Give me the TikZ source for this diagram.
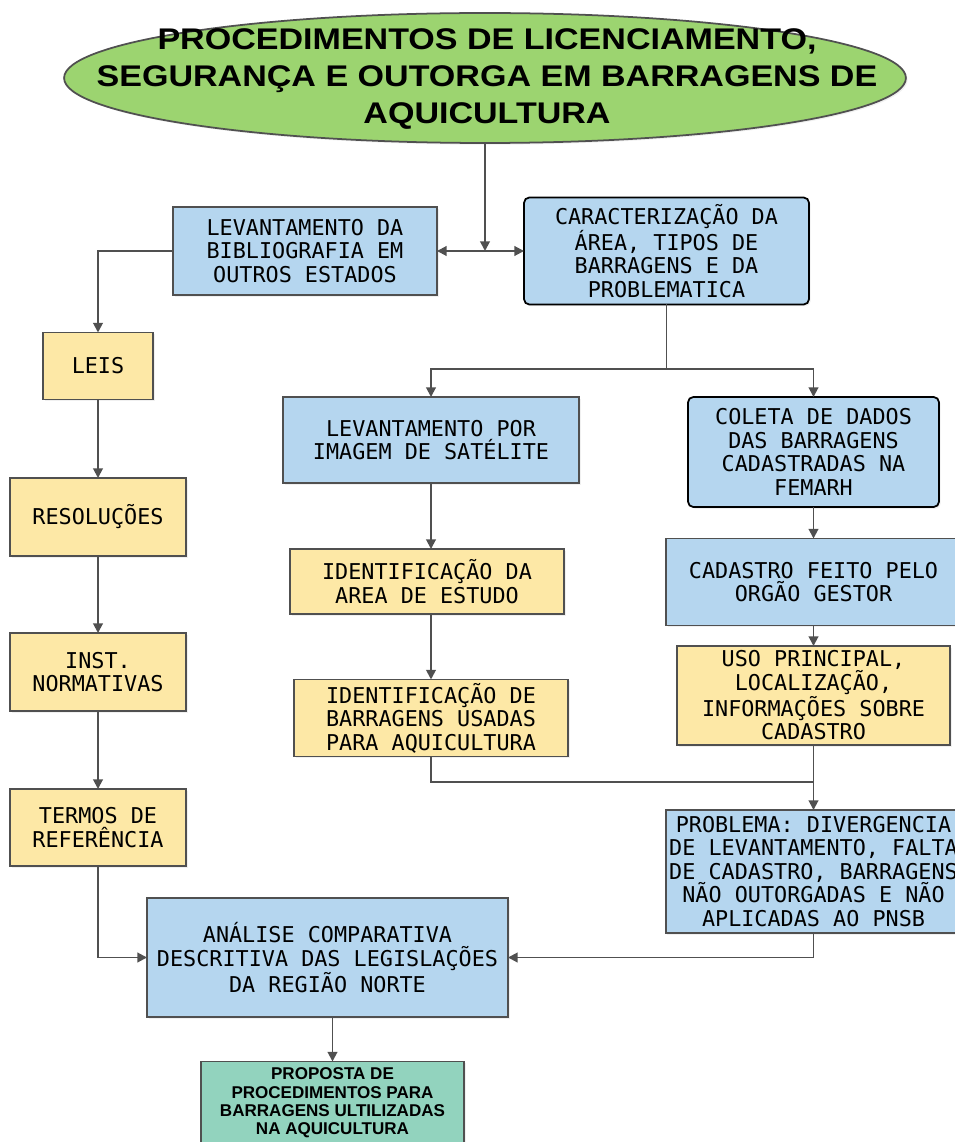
\documentclass[tikz,border=0pt]{standalone}
\usepackage{fontspec}
\setmonofont{DejaVu Sans Mono}
\newfontfamily\titlefont[FakeStretch=1.14]{Liberation Sans}
\newfontfamily\goalfont{Liberation Sans}
\usetikzlibrary{positioning, shapes.geometric, arrows.meta, shadows}
\definecolor{stepblue}{RGB}{181,214,239}
\definecolor{stepyellow}{RGB}{253,232,166}
\definecolor{titlegreen}{RGB}{156,212,112}
\definecolor{goalteal}{RGB}{146,211,190}
\definecolor{edgegray}{RGB}{80,80,80}

\begin{document}
\begin{tikzpicture}
    [x = 0.02cm, y = -0.02cm, outer sep = 0pt,
    >={Triangle[length=5.5pt, width=5.5pt]},
    box/.style={rectangle, draw=edgegray, line width=1pt, align=center,
      inner sep=2pt, font=\ttfamily\fontsize{12.4}{13.4}\selectfont,
      drop shadow={opacity=0.12, shadow xshift=1pt, shadow yshift=-1pt}},
    bluebox/.style={box, fill=stepblue},
    yellowbox/.style={box, fill=stepyellow},
    keybox/.style={bluebox, draw=black, rounded corners=3pt},
    goalbox/.style={box, fill=goalteal,
      font=\goalfont\bfseries\fontsize{9.7}{10.5}\selectfont},
    link/.style={draw=edgegray, line width=1.1pt},
    flow/.style={link, ->}]
    \useasboundingbox (0,0) rectangle (954,1142);

    % title
    \node[ellipse, draw=edgegray, line width=1pt, fill=titlegreen,
      minimum width=16.84cm, minimum height=2.6cm, inner sep=0pt,
      drop shadow={opacity=0.12, shadow xshift=1pt, shadow yshift=-1pt}]
      (title) at (485,78) {};
    \node[align=center, font=\titlefont\bfseries\fontsize{17}{21}\selectfont]
      (title text) at (487,79) {PROCEDIMENTOS DE LICENCIAMENTO,\\
      SEGURANÇA E OUTORGA EM BARRAGENS DE\\AQUICULTURA};

    % first row
    \node[bluebox, minimum width=5.28cm, minimum height=1.76cm] (biblio)
      at (305,251) {LEVANTAMENTO DA\\BIBLIOGRAFIA EM\\OUTROS ESTADOS};
    \node[keybox, minimum width=5.7cm, minimum height=2.14cm] (caract)
      at (666.5,251) {CARACTERIZAÇÃO DA\\ÁREA, TIPOS DE\\BARRAGENS E DA\\PROBLEMATICA};

    % legislation column
    \node[yellowbox, minimum width=2.2cm, minimum height=1.34cm] (leis)
      at (98,366) {LEIS};
    \node[yellowbox, minimum width=3.52cm, minimum height=1.56cm] (resol)
      at (98,517) {RESOLUÇÕES};
    \node[yellowbox, minimum width=3.52cm, minimum height=1.56cm] (inst)
      at (98,672) {INST.\\NORMATIVAS};
    \node[yellowbox, minimum width=3.52cm, minimum height=1.54cm] (termos)
      at (98,827.5) {TERMOS DE\\REFERÊNCIA};

    % satellite column
    \node[bluebox, minimum width=5.92cm, minimum height=1.72cm] (levimg)
      at (431,440) {LEVANTAMENTO POR\\IMAGEM DE SATÉLITE};
    \node[yellowbox, minimum width=5.48cm, minimum height=1.3cm] (identarea)
      at (427,581.5) {IDENTIFICAÇÃO DA\\AREA DE ESTUDO};
    \node[yellowbox, minimum width=5.48cm, minimum height=1.52cm] (identbarr)
      at (431,718) {IDENTIFICAÇÃO DE\\BARRAGENS USADAS\\PARA AQUICULTURA};

    % register column
    \node[keybox, minimum width=5.02cm, minimum height=2.2cm] (coleta)
      at (813.5,452) {COLETA DE DADOS\\DAS BARRAGENS\\CADASTRADAS NA\\FEMARH};
    \node[bluebox, minimum width=5.9cm, minimum height=1.74cm] (cadastro)
      at (813.5,582) {CADASTRO FEITO PELO\\ORGÃO GESTOR};
    \node[yellowbox, minimum width=5.46cm, minimum height=1.98cm] (uso)
      at (813.5,695.5) {USO PRINCIPAL,\\LOCALIZAÇÃO,\\INFORMAÇÕES SOBRE\\CADASTRO};
    \node[bluebox, minimum width=5.9cm, minimum height=2.46cm] (problema)
      at (813.5,871.5) {PROBLEMA: DIVERGENCIA\\DE LEVANTAMENTO, FALTA\\DE CADASTRO, BARRAGENS\\NÃO OUTORGADAS E NÃO\\APLICADAS AO PNSB};

    % result
    \node[bluebox, minimum width=7.22cm, minimum height=2.38cm] (analise)
      at (327.5,957.5) {ANÁLISE COMPARATIVA\\DESCRITIVA DAS LEGISLAÇÕES\\DA REGIÃO NORTE};
    \node[goalbox, minimum width=5.26cm, minimum height=1.66cm] (proposta)
      at (332.5,1103) {PROPOSTA DE\\PROCEDIMENTOS PARA\\BARRAGENS ULTILIZADAS\\NA AQUICULTURA};

    % connectors
    \coordinate (hub) at (title.south |- biblio.east);
    \coordinate (fork) at (caract.south |- 0,369);
    \coordinate (join) at (uso.south |- 0,782);
    \draw[flow] (title.south) -- (hub);
    \draw[flow] (hub) -- (biblio.east);
    \draw[flow] (hub) -- (caract.west |- hub);
    \draw[flow] (biblio.west) -| (leis.north);
    \foreach \a/\b in {leis/resol, resol/inst, inst/termos}
      \draw[flow] (\a) -- (\b);
    \draw[flow] (termos.south) |- (analise.west);
    \draw[link] (caract.south) -- (fork);
    \draw[flow] (fork) -| (levimg.north);
    \draw[flow] (fork) -| (coleta.north);
    \draw[flow] (levimg.south) -- (levimg.south |- identarea.north);
    \draw[flow] (identbarr.north |- identarea.south) -- (identbarr.north);
    \draw[flow] (coleta) -- (cadastro);
    \draw[flow] (cadastro) -- (uso);
    \draw[link] (identbarr.south) |- (join);
    \draw[flow] (uso.south) -- (problema.north);
    \draw[flow] (problema.south) |- (analise.east);
    \draw[flow] (proposta.north |- analise.south) -- (proposta.north);
  \end{tikzpicture}
\end{document}
